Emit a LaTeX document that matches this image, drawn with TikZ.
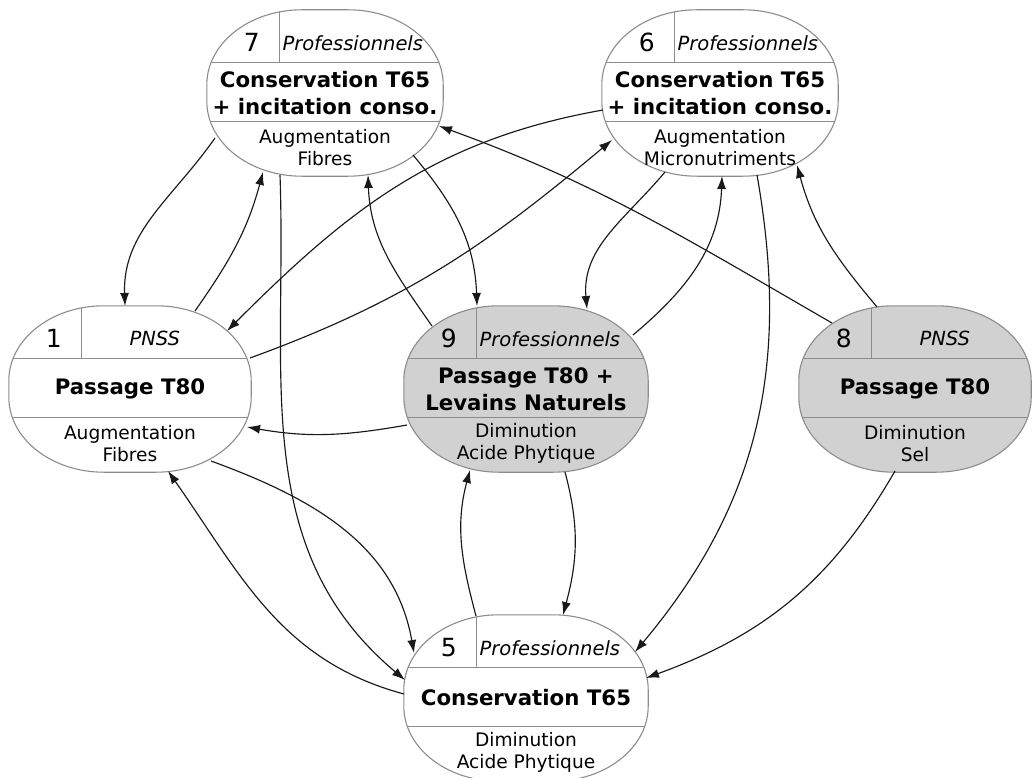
\documentclass[tikz,border=0pt]{standalone}
\usepackage{fontspec}
\setmainfont{DejaVu Sans}
\usetikzlibrary{arrows.meta,calc}

\definecolor{bordure}{gray}{0.55}
\definecolor{grise}{gray}{0.82}

\tikzset{
  etapebox/.style={rectangle, draw=none, minimum width=240pt, minimum height=166pt, inner sep=0pt},
  etapenum/.style={font=\fontsize{25}{30}\selectfont, inner sep=0pt},
  etaperole/.style={font=\fontsize{19.5}{23}\selectfont\itshape, inner sep=0pt},
  etapetitre/.style={font=\fontsize{21.3}{27}\selectfont\bfseries, align=center, inner sep=0pt},
  etapedesc/.style={font=\fontsize{18.6}{22}\selectfont, align=center, inner sep=0pt},
  fleche/.style={-{Latex[length=13pt,width=9pt]}, line width=1.15pt, black!90},
}

% contour arrondi d'une etape
\newcommand\etapecontour[1]{([xshift=95pt]#1.north west) -- ([xshift=-95pt]#1.north east)
  arc[start angle=90, end angle=0, x radius=95pt, y radius=75pt]
  -- ([yshift=75pt]#1.south east)
  arc[start angle=0, end angle=-90, x radius=95pt, y radius=75pt]
  -- ([xshift=95pt]#1.south west)
  arc[start angle=270, end angle=180, x radius=95pt, y radius=75pt]
  -- ([yshift=-75pt]#1.north west)
  arc[start angle=180, end angle=90, x radius=95pt, y radius=75pt] -- cycle}

% [options] nom, position, fond, numero, acteur, titre, description
\newcommand\etape[8][]{%
  \node[etapebox,#1] (#2) at (#3) {};
  \path[draw=bordure, line width=1.1pt, fill=#4] \etapecontour{#2};
  \begin{scope}
    \clip \etapecontour{#2};
    \draw[bordure, line width=1.1pt] ([yshift=-53pt]#2.north west) -- ([yshift=-53pt]#2.north east)
      ([yshift=-112pt]#2.north west) -- ([yshift=-112pt]#2.north east)
      ([xshift=73pt]#2.north west) -- ([xshift=73pt,yshift=-53pt]#2.north west);
  \end{scope}
  \node[etapenum] (#2num) at ([xshift=45pt,yshift=-33pt]#2.north west) {#5};
  \node[etaperole] (#2role) at ([xshift=146pt,yshift=-33pt]#2.north west) {#6};
  \node[etapetitre] (#2titre) at ([yshift=-83pt]#2.north) {#7};
  \node[etapedesc] (#2desc) at ([yshift=-138pt]#2.north) {#8};
}

\begin{document}
\begin{tikzpicture}[x=1pt, y=-1pt]
  \useasboundingbox (0,0) rectangle (1032,778);

  \etape[minimum width=236pt]{n7}{325,93}{white}{7}{Professionnels}{Conservation T65\\+ incitation conso.}{Augmentation\\Fibres}
  \etape[minimum width=236pt]{n6}{720,93}{white}{6}{Professionnels}{Conservation T65\\+ incitation conso.}{Augmentation\\Micronutriments}
  \etape[minimum width=242pt]{n1}{130,389}{white}{1}{PNSS}{Passage T80}{Augmentation\\Fibres}
  \etape[minimum width=244pt]{n9}{526,389}{grise}{9}{Professionnels}{Passage T80 +\\Levains Naturels}{Diminution\\Acide Phytique}
  \etape[minimum width=232pt]{n8}{915,389}{grise}{8}{PNSS}{Passage T80}{Diminution\\Sel}
  \etape[minimum width=244pt]{n5}{526,698}{white}{5}{Professionnels}{Conservation T65}{Diminution\\Acide Phytique}

  \draw[fleche] ($(n7.center)+(-110,45)$) to[out=235, in=92] ($(n1.center)+(-5,-83)$);
  \draw[fleche] ($(n1.center)+(65,-78)$) to[out=55, in=255] ($(n7.center)+(-62,79)$);
  \draw[fleche] ($(n6.center)+(-117,17)$) to[out=190, in=45] ($(n1.center)+(97,-58)$);
  \draw[fleche] ($(n1.center)+(120,-31)$) to[out=20, in=220] ($(n6.center)+(-108,47)$);
  \draw[fleche] ($(n9.center)+(-94,-63)$) to[out=125, in=-88] ($(n7.center)+(43,82)$);
  \draw[fleche] ($(n7.center)+(88,62)$) to[out=-50, in=92] ($(n9.center)+(-49,-83)$);
  \draw[fleche] ($(n6.center)+(-55,79)$) to[out=230, in=95] ($(n9.center)+(61,-80)$);
  \draw[fleche] ($(n9.center)+(107,-54)$) to[out=40, in=-92] ($(n6.center)+(2,83)$);
  \draw[fleche] ($(n8.center)+(-83,-66)$) to[out=150, in=-20] ($(n7.center)+(114,33)$);
  \draw[fleche] ($(n8.center)+(-38,-82)$) to[out=130, in=-75] ($(n6.center)+(77,72)$);
  \draw[fleche] ($(n9.center)+(-119,36)$) to[out=190, in=-10] ($(n1.center)+(117,38)$);
  \draw[fleche] ($(n7.center)+(-45,82)$) to[out=-88, in=140] ($(n5.center)+(-121,-18)$);
  \draw[fleche] ($(n6.center)+(37,82)$) to[out=-80, in=50] ($(n5.center)+(109,-46)$);
  \draw[fleche] ($(n8.center)+(-20,82)$) to[out=240, in=20] ($(n5.center)+(120,-20)$);
  \draw[fleche] ($(n1.center)+(81,72)$) to[out=-20, in=100] ($(n5.center)+(-112,-45)$);
  \draw[fleche] ($(n5.center)+(-122,-4)$) to[out=165, in=-55] ($(n1.center)+(38,82)$);
  \draw[fleche] ($(n5.center)+(-50,-82)$) to[out=105, in=255] ($(n9.center)+(-56,81)$);
  \draw[fleche] ($(n9.center)+(39,83)$) to[out=-75, in=75] ($(n5.center)+(37,-83)$);
\end{tikzpicture}
\end{document}
